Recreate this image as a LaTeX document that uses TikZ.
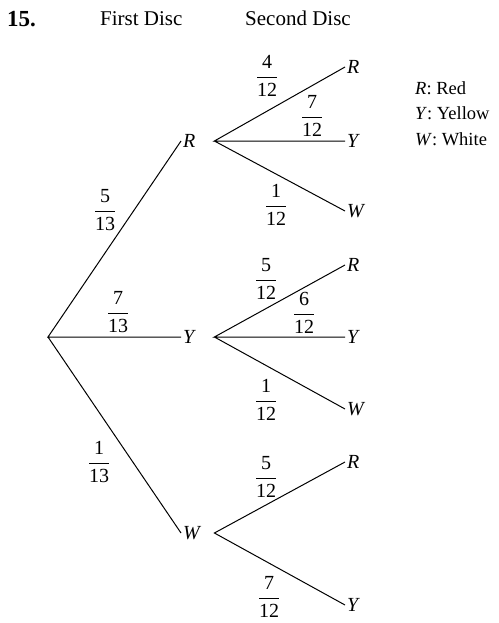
\documentclass[tikz,border=0pt]{standalone}
\usepackage{amsmath}
\usepackage{fontspec}
\setmainfont{Liberation Serif}

\newcommand{\prob}[2]{$\genfrac{}{}{1.3pt}{0}{\text{#1}}{\text{#2}}$}

\begin{document}
\begin{tikzpicture}[
  x=1pt,y=-1pt,
  font=\fontsize{20}{24}\selectfont,
  branch/.style={line width=1pt},
  pick/.style={anchor=west,inner sep=2pt,text width=29pt,align=left,font=\fontsize{20}{24}\selectfont\itshape},
  leaf/.style={anchor=west,inner sep=2pt,font=\fontsize{20}{24}\selectfont\itshape},
  head/.style={anchor=base west,inner sep=0pt,font=\fontsize{21}{25}\selectfont},
  keyline/.style={anchor=base west,inner sep=0pt,font=\fontsize{18.5}{25}\selectfont},
  prob/.style={inner sep=0pt},
]
\useasboundingbox (0,0) rectangle (498,623);
\node[head,font=\fontsize{23}{27}\selectfont\bfseries] (qnum) at (7,27) {15.};
\node[head] (first) at (100,26) {First Disc};
\node[head] (second) at (245,26) {Second Disc};
\node[keyline] (keyR) at (415,95) {\textit{R}: Red};
\node[keyline] (keyY) at (415,120) {\textit{Y}: Yellow};
\node[keyline] (keyW) at (415,145) {\textit{W}: White};

\coordinate (root) at (48,337);
\node[pick] (R) at (181,141) {R};
\node[pick] (Y) at (181,337) {Y};
\node[pick] (W) at (181,533) {W};

\node[leaf] (RR) at (345,67) {R};
\node[leaf] (RY) at (345,141) {Y};
\node[leaf] (RW) at (345,211) {W};
\node[leaf] (YR) at (345,265) {R};
\node[leaf] (YY) at (345,337) {Y};
\node[leaf] (YW) at (345,409) {W};
\node[leaf] (WR) at (345,462) {R};
\node[leaf] (WY) at (345,605) {Y};

\draw[branch] (R.west) -- (root) -- (Y.west) (root) -- (W.west);
\draw[branch] (RR.west) -- (R.east) -- (RY.west) (R.east) -- (RW.west);
\draw[branch] (YR.west) -- (Y.east) -- (YY.west) (Y.east) -- (YW.west);
\draw[branch] (WR.west) -- (W.east) -- (WY.west);

\node[prob] (pR) at (105,210) {\prob{5}{13}};
\node[prob] (pY) at (118,312) {\prob{7}{13}};
\node[prob] (pW) at (99,462) {\prob{1}{13}};
\node[prob] (pRR) at (267,76) {\prob{4}{12}};
\node[prob] (pRY) at (312,116) {\prob{7}{12}};
\node[prob] (pRW) at (276,205) {\prob{1}{12}};
\node[prob] (pYR) at (266,279) {\prob{5}{12}};
\node[prob] (pYY) at (304,313) {\prob{6}{12}};
\node[prob] (pYW) at (266,400) {\prob{1}{12}};
\node[prob] (pWR) at (266,477) {\prob{5}{12}};
\node[prob] (pWY) at (269,597) {\prob{7}{12}};
\end{tikzpicture}
\end{document}
